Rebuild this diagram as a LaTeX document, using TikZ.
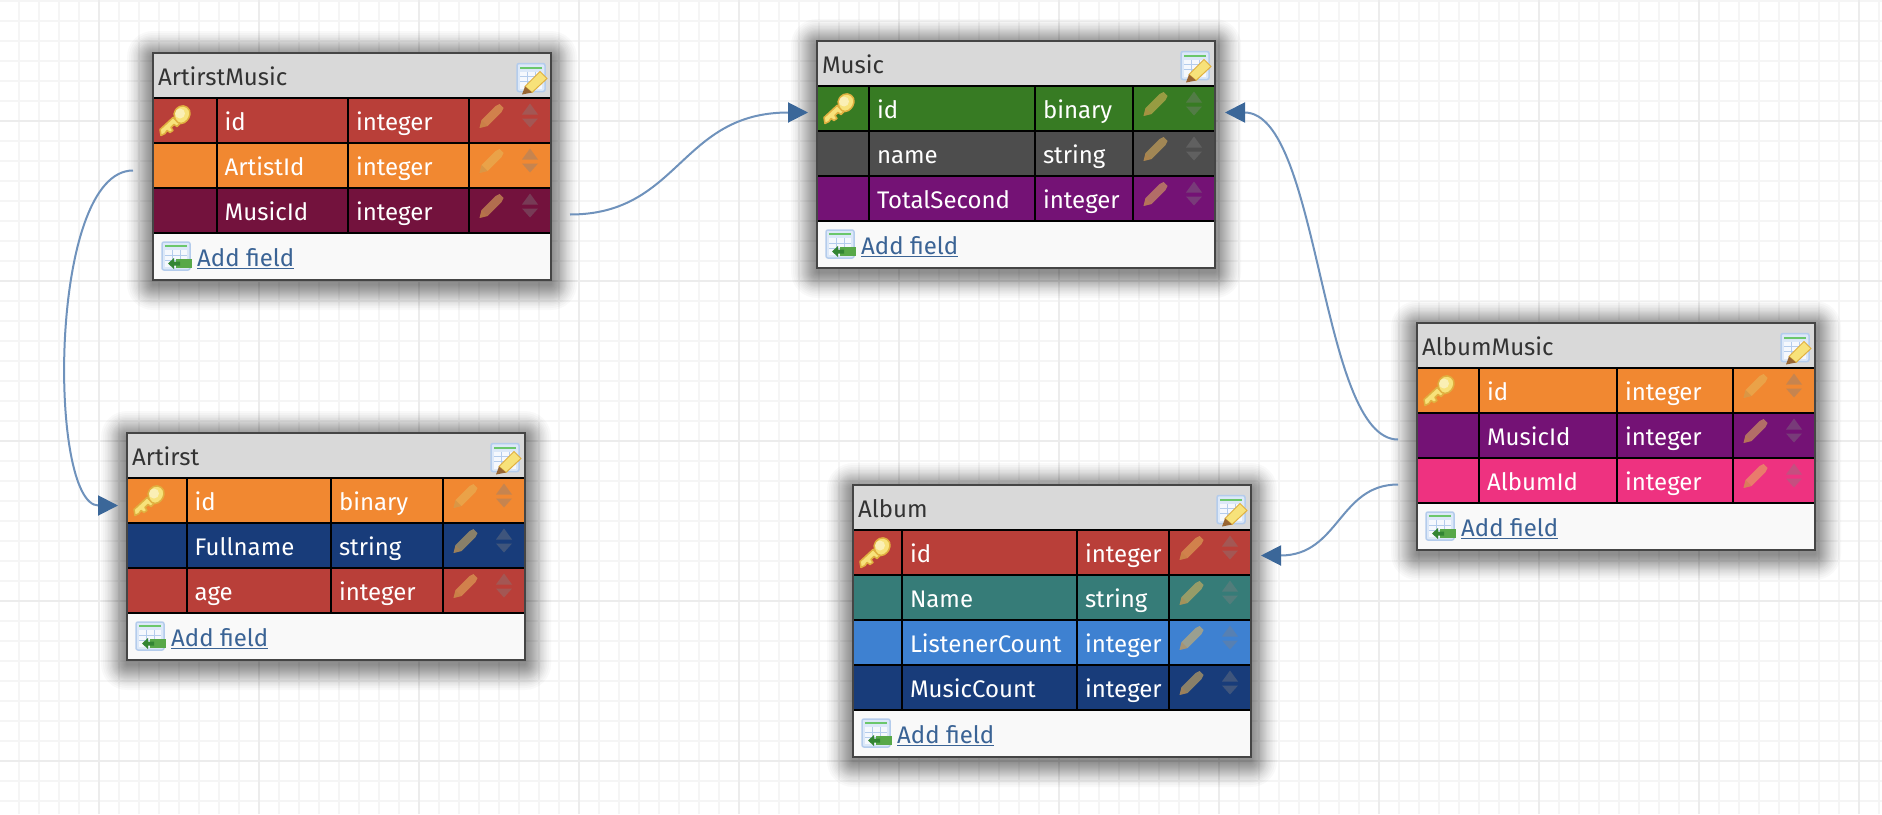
\documentclass[tikz,border=0pt]{standalone}
\usepackage{fontspec}
\setmainfont{Fira Sans}
\usetikzlibrary{arrows.meta}

\definecolor{rowred}{HTML}{B93F39}
\definecolor{roworange}{HTML}{F18831}
\definecolor{rowmaroon}{HTML}{73123D}
\definecolor{rowgreen}{HTML}{377B23}
\definecolor{rowgray}{HTML}{4D4D4D}
\definecolor{rowpurple}{HTML}{741275}
\definecolor{rownavy}{HTML}{183C7A}
\definecolor{rowpink}{HTML}{EE3280}
\definecolor{rowteal}{HTML}{367C78}
\definecolor{rowblue}{HTML}{3E81D1}
\definecolor{headgray}{HTML}{D9D9D9}
\definecolor{footwhite}{HTML}{F9F9F9}
\definecolor{frameline}{HTML}{454545}
\definecolor{linkblue}{HTML}{3A6395}
\definecolor{wireblue}{HTML}{6F92BC}
\definecolor{tipblue}{HTML}{3B6799}
\definecolor{gridminor}{HTML}{F5F5F5}
\definecolor{gridmajor}{HTML}{ECECEC}
\definecolor{keygold}{HTML}{F7E27A}
\definecolor{keyedge}{HTML}{E0B040}
\definecolor{iconblue}{HTML}{DCE8F8}
\definecolor{iconedge}{HTML}{B4CCEC}
\definecolor{penciltan}{HTML}{E6B85C}
\definecolor{addgreen}{HTML}{58A848}

\tikzset{
    cell/.style={draw=black, line width=2pt, outer sep=0pt, inner ysep=0pt, inner xsep=8pt, anchor=north west,
        minimum height=45pt, text=white, align=left, text height=24pt, text depth=5pt},
    headbox/.style={fill=headgray, outer sep=0pt, inner ysep=0pt, inner xsep=5pt, anchor=north west,
        minimum height=45pt, text=black!80, align=left, text height=24pt, text depth=5pt},
    tablebox/.style={fill=footwhite, outer sep=0pt, inner sep=0pt, anchor=north west},
    framebox/.style={draw=frameline, line width=2.4pt},
    addlink/.style={anchor=base west, inner sep=0pt, text=linkblue},
    wire/.style={draw=wireblue, line width=2pt, -{Triangle[length=20pt, width=20pt, color=tipblue]}},
    pencilicon/.pic={
        \fill[penciltan, fill opacity=0.55] (-12,12) -- (-10,4) -- (4,-10) -- (8,-12) -- (12,-8) -- (10,-4) -- (-4,10) -- cycle;
        \fill[brown, fill opacity=0.35] (-12,12) -- (-10,4) -- (-4,10) -- cycle;
    },
    updownicon/.pic={
        \fill[gray, fill opacity=0.38] (-8,-2) -- (0,-13) -- (8,-2) -- cycle;
        \fill[gray, fill opacity=0.38] (-8,2) -- (0,11) -- (8,2) -- cycle;
    },
    keyicon/.pic={
        \path[draw=keyedge, fill=keygold, line width=1.5pt, line join=round]
            (-16,9) -- (-3,-3) -- (4,3) -- (1,6) -- (-2,4) -- (-5,7) -- (-3,10) -- (-6,12) -- (-9,10) -- (-11,13) -- (-15,15) -- cycle;
        \path[draw=keyedge, fill=keygold, line width=1.5pt, rounded corners=4pt]
            (-3,-7) -- (3,-15) -- (12,-14) -- (15,-6) -- (9,3) -- (1,3) -- cycle;
        \fill[white, fill opacity=0.45] (4,-7) circle (5);
    },
    tableicon/.pic={
        \path[draw=iconedge, fill=iconblue, line width=1.5pt, rounded corners=2pt] (-14,-14) rectangle (14,14);
        \fill[green!45!gray!80] (-11,-11) rectangle (11,-9);
        \fill[white!70!iconblue] (-11,-6) rectangle (11,11);
        \foreach \y in {-1,4}
            \draw[iconedge, line width=1pt] (-11,\y) -- (11,\y);
        \foreach \x in {-4,4}
            \draw[iconedge, line width=1pt] (\x,-6) -- (\x,11);
    },
    editicon/.pic={
        \pic {tableicon};
        \path[draw=keyedge, fill=keygold, line width=1pt] (-6,9) -- (9,-6) -- (16,1) -- (1,15) -- cycle;
        \fill[brown!80!black] (-6,9) -- (-9,17) -- (1,15) -- cycle;
    },
    addicon/.pic={
        \pic {tableicon};
        \fill[addgreen] (0,3) rectangle (16,12);
        \fill[green!40!black!80] (-8,7.5) -- (-2,2) -- (-2,5.5) -- (4,5.5) -- (4,9.5) -- (-2,9.5) -- (-2,13) -- cycle;
    },
}

% one table: name, left, top, right, bottom, title
\newcommand{\dbtable}[6]{
    \def\tabl{#2}\def\tabr{#4}
    \foreach \s in {26,24,22,20.5,19,17.5,16,15,14,13,12,11,10,9,8,7,6,5,4,3,2,1}
        \fill[black, opacity=0.022, rounded corners=\s pt] (#2-\s,#3-\s+4) rectangle (#4+\s,#5+\s+4);
    \pgfmathsetmacro{\wall}{#4-#2}
    \pgfmathsetmacro{\hall}{#5-#3}
    \node[tablebox, minimum width=\wall pt, minimum height=\hall pt] (#1) at (#2,#3) {};
    \node[headbox, minimum width=\wall pt, text width=\wall pt-10pt] (#1h) at (#2,#3) {#6};
    \pic at (#4-20,#3+24.5) {editicon};
}
% column borders of the current table
\newcommand{\dbcols}[3]{
    \def\cola{#1}\def\colb{#2}\def\colc{#3}
    \pgfmathsetmacro{\wk}{#1-\tabl}
    \pgfmathsetmacro{\wf}{#2-#1}
    \pgfmathsetmacro{\wt}{#3-#2}
    \pgfmathsetmacro{\wa}{\tabr-#3}
}
% one field: name, top, colour, field, type
\newcommand{\dbrow}[5]{
    \node[cell, fill=#3, minimum width=\wk pt] (#1k) at (\tabl,#2) {};
    \node[cell, fill=#3, minimum width=\wf pt, text width=\wf pt-16pt] (#1f) at (\cola,#2) {#4};
    \node[cell, fill=#3, minimum width=\wt pt, text width=\wt pt-16pt] (#1t) at (\colb,#2) {#5};
    \node[cell, fill=#3, minimum width=\wa pt] (#1a) at (\colc,#2) {};
    \pic at (\colc+22.5,#2+18) {pencilicon};
    \pic at (\colc+61,#2+18.5) {updownicon};
}
% frame and add link of a table: name
\newcommand{\dbfoot}[1]{
    \draw[framebox] (#1.north west) rectangle (#1.south east);
    \pic at ([shift={(23,-24)}]#1.south west) {addicon};
    \node[addlink] (#1add) at ([shift={(44,-13.5)}]#1.south west) {\underline{Add field}};
}

\begin{document}
\begin{tikzpicture}[x=1pt, y=-1pt, font=\fontsize{24}{28}\selectfont]

    \useasboundingbox[fill=white] (0,0) rectangle (1882,814);

    % Grid
    \foreach \x in {19,39,...,1879}
        \draw[gridminor, line width=1.6pt] (\x,0) -- (\x,814);
    \foreach \y in {1,21,...,801}
        \draw[gridminor, line width=1.6pt] (0,\y) -- (1882,\y);
    \foreach \x in {99,259,...,1859}
        \draw[gridmajor, line width=1.6pt] (\x,0) -- (\x,814);
    \foreach \y in {121,281,...,761}
        \draw[gridmajor, line width=1.6pt] (0,\y) -- (1882,\y);

    % ArtirstMusic
    \dbtable{am}{153}{53}{551}{280}{ArtirstMusic}
    \dbcols{216.7}{348}{469}
    \dbrow{am1}{98}{rowred}{id}{integer}
    \dbrow{am2}{143}{roworange}{ArtistId}{integer}
    \dbrow{am3}{188}{rowmaroon}{MusicId}{integer}
    \pic at ([xshift=23]am1k.west) {keyicon};
    \dbfoot{am}

    % Music
    \dbtable{mu}{817}{41}{1215}{268}{Music}
    \dbcols{869}{1035}{1133}
    \dbrow{mu1}{86}{rowgreen}{id}{binary}
    \dbrow{mu2}{131}{rowgray}{name}{string}
    \dbrow{mu3}{176}{rowpurple}{TotalSecond}{integer}
    \pic at ([xshift=23]mu1k.west) {keyicon};
    \dbfoot{mu}

    % AlbumMusic
    \dbtable{alm}{1417}{323}{1815}{550}{AlbumMusic}
    \dbcols{1479}{1617}{1733}
    \dbrow{alm1}{368}{roworange}{id}{integer}
    \dbrow{alm2}{413}{rowpurple}{MusicId}{integer}
    \dbrow{alm3}{458}{rowpink}{AlbumId}{integer}
    \pic at ([xshift=23]alm1k.west) {keyicon};
    \dbfoot{alm}

    % Artirst
    \dbtable{ar}{127}{433}{525}{660}{Artirst}
    \dbcols{186.7}{331}{443}
    \dbrow{ar1}{478}{roworange}{id}{binary}
    \dbrow{ar2}{523}{rownavy}{Fullname}{string}
    \dbrow{ar3}{568}{rowred}{age}{integer}
    \pic at ([xshift=23]ar1k.west) {keyicon};
    \dbfoot{ar}

    % Album
    \dbtable{al}{853}{485}{1251}{757}{Album}
    \dbcols{902}{1077}{1169}
    \dbrow{al1}{530}{rowred}{id}{integer}
    \dbrow{al2}{575}{rowteal}{Name}{string}
    \dbrow{al3}{620}{rowblue}{ListenerCount}{integer}
    \dbrow{al4}{665}{rownavy}{MusicCount}{integer}
    \pic at ([xshift=23]al1k.west) {keyicon};
    \dbfoot{al}

    % Links
    \draw[wire] ([shift={(-20,5)}]am2k.west) .. controls +(-85,0) and +(-70,0) .. ([shift={(-9,5)}]ar1k.west);
    \draw[wire] ([shift={(19,4)}]am3a.east) .. controls +(110,0) and +(-128,0) .. ([shift={(-9,4)}]mu1k.west);
    \draw[wire] ([shift={(-19,4)}]alm2k.west) .. controls +(-78,0) and +(95,0) .. ([shift={(10,4)}]mu1a.east);
    \draw[wire] ([shift={(-19,4)}]alm3k.west) .. controls +(-59,0) and +(78,0) .. ([shift={(10,3)}]al1a.east);

\end{tikzpicture}
\end{document}
